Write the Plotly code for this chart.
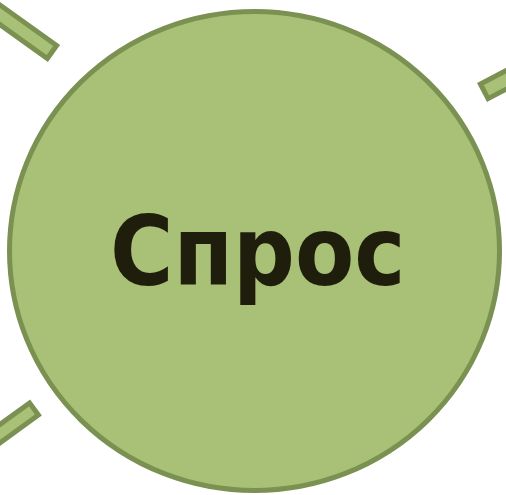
import math
import plotly.graph_objects as go

# Content
label_text = "Спрос"

# Decorative bars: outer end-centre (px), direction angle (deg, screen coords, pointing outward from end), outer width
bar_names = ["top_left", "top_right", "bottom_left"]
bar_end_x = [54.0, 482.0, 36.0]
bar_end_y = [53.5, 92.5, 407.5]
bar_angle = [215.6, -27.6, 144.0]   # direction the bar extends away from its visible end
bar_width = [21.0, 21.5, 20.0]

W, H = 506, 495
FILL = "#a9c077"
EDGE = "#7b9152"
LW = 5

fig = go.Figure()
fig.add_trace(go.Scatter(x=[0, W], y=[0, H], mode="markers", marker=dict(opacity=0), hoverinfo="skip", showlegend=False))

shapes = []
for ex, ey, ang, wd in zip(bar_end_x, bar_end_y, bar_angle, bar_width):
    a = math.radians(ang)
    dx, dy = math.cos(a), math.sin(a)
    px, py = -dy, dx
    hw = (wd - LW) / 2.0
    cx, cy = ex + dx * LW / 2.0, ey + dy * LW / 2.0
    L = 200
    fx, fy = cx + dx * L, cy + dy * L
    pts = [(cx + px * hw, cy + py * hw), (fx + px * hw, fy + py * hw),
           (fx - px * hw, fy - py * hw), (cx - px * hw, cy - py * hw)]
    path = "M " + " L ".join(f"{x:.2f},{y:.2f}" for x, y in pts) + " Z"
    shapes.append(dict(type="path", path=path, xref="x", yref="y",
                       fillcolor=FILL, line=dict(color=EDGE, width=LW), layer="below"))

shapes.append(dict(type="circle", xref="x", yref="y", x0=9.5, x1=499.5, y0=11.5, y1=490.5,
                   fillcolor=FILL, line=dict(color=EDGE, width=LW), layer="below"))

fig.update_layout(
    width=W, height=H, margin=dict(l=0, r=0, t=0, b=0),
    paper_bgcolor="white", plot_bgcolor="white",
    xaxis=dict(range=[0, W], visible=False, fixedrange=True),
    yaxis=dict(range=[H, 0], visible=False, fixedrange=True),
    shapes=shapes,
    showlegend=False,
)
fig.add_annotation(x=257, y=252, xref="x", yref="y", text=f"<b>{label_text}</b>", showarrow=False,
                   font=dict(family="DejaVu Sans Condensed, DejaVu Sans", size=96, color="#1f1d0b"),
                   xanchor="center", yanchor="middle")

fig.write_html("out.html", config={"displayModeBar": False})

# remove the browser's default body margin so the figure sits at the page origin
with open("out.html", "r", encoding="utf-8") as f:
    html = f.read()
html = html.replace("<body>", '<body style="margin:0;overflow:hidden">', 1)
with open("out.html", "w", encoding="utf-8") as f:
    f.write(html)
